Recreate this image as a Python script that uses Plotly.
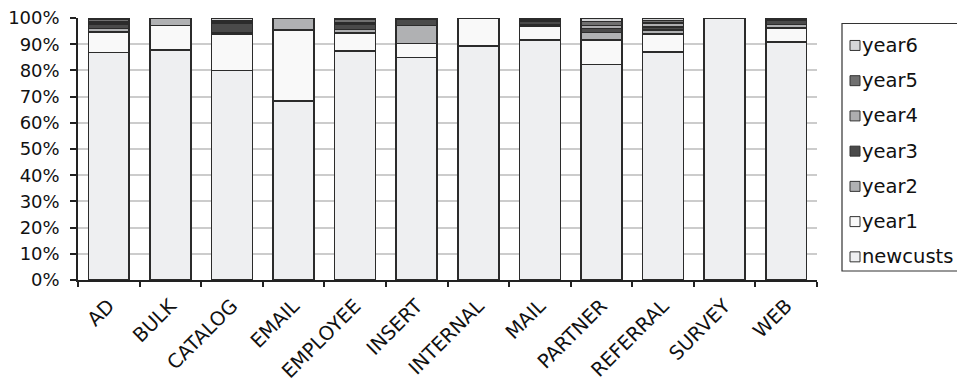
import plotly.graph_objects as go

# Share of customers by channel: new customers and the cohorts of years 1-6 (percent)
channels = ["AD", "BULK", "CATALOG", "EMAIL", "EMPLOYEE", "INSERT", "INTERNAL",
            "MAIL", "PARTNER", "REFERRAL", "SURVEY", "WEB"]

newcusts = [86.9, 87.9, 80.0, 68.3, 87.5, 85.0, 89.3, 91.7, 82.3, 87.0, 100.0, 90.8]
year1 = [7.7, 9.3, 14.0, 27.2, 6.7, 5.3, 10.7, 5.2, 9.4, 6.9, 0.0, 5.4]
year2 = [1.4, 2.8, 0.3, 4.5, 1.4, 6.9, 0.0, 0.6, 2.7, 1.6, 0.0, 1.3]
year3 = [1.8, 0.0, 3.9, 0.0, 2.0, 2.3, 0.0, 1.2, 1.6, 1.1, 0.0, 1.5]
year4 = [0.6, 0.0, 0.3, 0.0, 0.6, 0.0, 0.0, 0.3, 1.2, 1.4, 0.0, 0.2]
year5 = [1.0, 0.0, 0.3, 0.0, 1.2, 0.5, 0.0, 0.6, 1.5, 1.0, 0.0, 0.6]
year6 = [0.6, 0.0, 1.2, 0.0, 0.6, 0.0, 0.0, 0.4, 1.3, 1.0, 0.0, 0.2]

series_names = ["newcusts", "year1", "year2", "year3", "year4", "year5", "year6"]
series_values = [newcusts, year1, year2, year3, year4, year5, year6]
series_colors = ["#eeeff1", "#f9f9f9", "#b0b1b3", "#4a4a4a", "#adadaf", "#707070", "#d4d5d7"]

FONT = "DejaVu Sans, Verdana, sans-serif"
W, H = 957, 383
ML, MR, MT, MB = 78, 140, 17.5, 103

fig = go.Figure()
for name, vals, col in zip(series_names, series_values, series_colors):
    fig.add_trace(go.Bar(
        x=channels, y=vals, name=name,
        marker=dict(color=col, line=dict(color="#2b2b2b", width=1.6)),
        showlegend=False,
    ))


def px_x(px):
    return (px - ML) / (W - ML - MR)


def px_y(py):
    return (H - MB - py) / (H - MT - MB)


# Legend panel on the right: box, swatches and labels (top entry = last series)
shapes = [dict(type="rect", xref="paper", yref="paper",
               x0=px_x(842), x1=px_x(965), y0=px_y(271), y1=px_y(23),
               line=dict(color="#333333", width=1.2), fillcolor="white", layer="below")]
annotations = []
legend_rows = list(zip(series_names, series_colors))[::-1]
for i, (name, col) in enumerate(legend_rows):
    cy = 45 + i * 35.3
    shapes.append(dict(type="rect", xref="paper", yref="paper",
                       x0=px_x(850), x1=px_x(860), y0=px_y(cy + 5), y1=px_y(cy - 5),
                       line=dict(color="#333333", width=1), fillcolor=col))
    annotations.append(dict(text=name, xref="paper", yref="paper",
                            x=px_x(860), y=px_y(cy), xanchor="left", yanchor="middle",
                            showarrow=False, font=dict(family=FONT, size=19.5, color="#111111")))

fig.update_layout(
    width=W, height=H,
    margin=dict(l=ML, r=MR, t=MT, b=MB, pad=0),
    paper_bgcolor="white", plot_bgcolor="white",
    barmode="stack", barnorm="percent", bargap=0.335,
    font=dict(family=FONT, size=18, color="#111111"),
    shapes=shapes, annotations=annotations,
    xaxis=dict(showline=True, linecolor="#222222", linewidth=1.5, automargin=False,
               ticks="outside", tickson="boundaries", ticklen=5, tickcolor="#222222",
               tickwidth=1.5, tickangle=-45, tickfont=dict(size=19.5),
               ticklabelstandoff=5, showgrid=False),
    yaxis=dict(range=[0, 100], dtick=10, ticksuffix="%", showline=True, automargin=False,
               linecolor="#222222", linewidth=1.5, ticks="outside", ticklen=6,
               tickcolor="#222222", tickwidth=1.5, tickfont=dict(size=18),
               ticklabelstandoff=7,
               gridcolor="#cccccc", gridwidth=1.5, zeroline=False),
)

fig.write_html("out.html")
